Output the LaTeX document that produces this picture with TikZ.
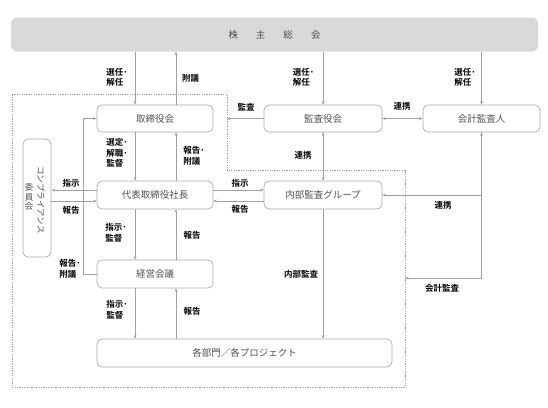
\documentclass[tikz,border=0pt]{standalone}
\usepackage{fontspec}
\setmainfont{Noto Sans CJK JP}[BoldFont={Noto Sans CJK JP Bold}]
\usetikzlibrary{arrows.meta}
\definecolor{linegray}{HTML}{A0A0A0}
\definecolor{boxgray}{HTML}{ABABAB}
\definecolor{textgray}{HTML}{505050}
\definecolor{barfill}{HTML}{D9D9D9}
\tikzset{
  box/.style={draw=boxgray, rounded corners=5pt, line width=0.7pt, fill=white,
    text=textgray, font=\fontsize{9.5}{10}\selectfont, inner sep=0pt},
  lbl/.style={font=\bfseries\fontsize{8.5}{10.5}\selectfont, align=left, inner sep=0pt, text=black},
  conn/.style={draw=linegray, line width=0.7pt, -{Stealth[length=3.5pt,width=3pt]}},
  both/.style={draw=linegray, line width=0.7pt, {Stealth[length=3.5pt,width=3pt]}-{Stealth[length=3.5pt,width=3pt]}},
  region/.style={draw=linegray, dash pattern=on 1.2pt off 1.2pt, line width=0.7pt},
}
\begin{document}
\begin{tikzpicture}[x=1pt,y=-1pt]
\useasboundingbox (0,0) rectangle (548,407);
% region
\coordinate (rA) at (12,94);
\coordinate (rB) at (227,94);
\coordinate (rC) at (227,170);
\coordinate (rD) at (405,170);
\coordinate (rE) at (405,387);
\coordinate (rF) at (12,387);
\draw[region] (rA) -- (rB) -- (rC) -- (rD) -- (rE) -- (rF) -- cycle;
% nodes
\node[fill=barfill, rounded corners=6pt, minimum width=527pt, minimum height=34pt, inner sep=0pt,
  text=textgray, font=\fontsize{9.5}{10}\selectfont] (gm) at (274.5,34.5)
  {株\hspace{18pt}主\hspace{18pt}総\hspace{18pt}会};
\node[box, minimum width=116pt, minimum height=27pt] (board) at (155,118.5) {取締役会};
\node[box, minimum width=118pt, minimum height=27pt] (kansa) at (323,118.5) {監査役会};
\node[box, minimum width=117pt, minimum height=27pt] (auditor) at (481.5,118.5) {会計監査人};
\node[box, minimum width=116pt, minimum height=28pt] (ceo) at (155,195) {代表取締役社長};
\node[box, minimum width=118pt, minimum height=28pt] (internal) at (323,195) {内部監査グループ};
\node[box, minimum width=116pt, minimum height=28pt] (keiei) at (155,274) {経営会議};
\node[box, minimum width=295pt, minimum height=28pt] (depts) at (244.5,353) {各部門／各プロジェクト};
\node[box, minimum width=28pt, minimum height=118pt] (comp) at (37,198) {};
\node[text=textgray, font=\fontsize{8.5}{10}\selectfont, rotate=-90, inner sep=0pt] (compA) at (41,200) {コンプライアンス};
\node[text=textgray, font=\fontsize{8.5}{9.5}\selectfont, align=center, inner sep=0pt] (compB) at (29,197) {委\\員\\会};
% coordinates for shifted connectors
\coordinate (b1) at ([xshift=-20pt]board.north);
\coordinate (b2) at ([xshift=21pt]board.north);
\coordinate (b3) at ([xshift=-20pt]board.south);
\coordinate (c1) at ([xshift=21pt]ceo.north);
\coordinate (c6) at ([xshift=-20pt]ceo.south);
\coordinate (k1) at ([xshift=21pt]keiei.north);
\coordinate (k2) at ([xshift=-20pt]keiei.south);
\coordinate (d1) at ([xshift=-68.5pt]depts.north);
\coordinate (c2) at ([yshift=5pt]ceo.west);
\coordinate (c3) at ([yshift=-6pt]ceo.west);
\coordinate (c4) at ([yshift=5pt]ceo.east);
\coordinate (c5) at ([yshift=-6pt]ceo.east);
\coordinate (rb) at (405,278);
% connectors
\draw[conn] (b1 |- gm.south) -- (b1);
\draw[conn] (b2) -- (b2 |- gm.south);
\draw[conn] (kansa.north |- gm.south) -- (kansa.north);
\draw[conn] (auditor.north |- gm.south) -- (auditor.north);
\draw[conn] (b3) -- (b3 |- ceo.north);
\draw[conn] (c1) -- (c1 |- board.south);
\draw[conn] (c6) -- (c6 |- keiei.north);
\draw[conn] (k1) -- (k1 |- ceo.south);
\draw[conn] (k2) -- (k2 |- depts.north);
\draw[conn] (d1) -- (d1 |- keiei.south);
\draw[conn] (internal.south) -- (internal.south |- depts.north);
\draw[conn] (c2) -- (c2 -| comp.east);
\draw[conn] (c3 -| comp.east) -- (c3);
\draw[conn] (c4) -- (c4 -| internal.west);
\draw[conn] (c5 -| internal.west) -- (c5);
\draw[conn] (keiei.west) -- ++(-13,0) |- (board.west);
\draw[conn] (kansa.west) -- (kansa.west -| rC);
\draw[both] (kansa.east) -- (auditor.west);
\draw[both] (kansa.south) -- (internal.north);
\draw[both] (internal.east) -| (auditor.south);
\draw[conn] (auditor.south) |- (rb);
% labels
\node[lbl] (l1) at (117,77.5) {選任･\\解任};
\node[lbl] (l2) at (190.5,78) {附議};
\node[lbl] (l3) at (303.5,77.5) {選任･\\解任};
\node[lbl] (l4) at (465,77.5) {選任･\\解任};
\node[lbl] (l5) at (246,107) {監査};
\node[lbl] (l6) at (402,106) {連携};
\node[lbl] (l7) at (117,153) {選定･\\解職･\\監督};
\node[lbl] (l8) at (194,156) {報告･\\附議};
\node[lbl] (l9) at (303,155) {連携};
\node[lbl] (l10) at (71,183) {指示};
\node[lbl] (l11) at (71,210) {報告};
\node[lbl] (l12) at (240,183) {指示};
\node[lbl] (l13) at (240,209) {報告};
\node[lbl] (l14) at (443,205) {連携};
\node[lbl] (l15) at (116,233) {指示･\\監督};
\node[lbl] (l16) at (192,235) {報告};
\node[lbl] (l17) at (70,269) {報告･\\附議};
\node[lbl] (l18) at (301,274) {内部監査};
\node[lbl] (l19) at (442,288) {会計監査};
\node[lbl] (l20) at (117,310) {指示･\\監督};
\node[lbl] (l21) at (192,311) {報告};
\end{tikzpicture}
\end{document}
